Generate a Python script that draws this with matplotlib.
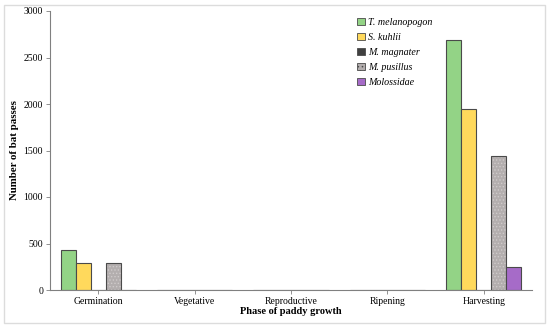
import matplotlib
matplotlib.use("Agg")
import matplotlib.pyplot as plt
from matplotlib.patches import Patch, Rectangle
import numpy as np

plt.rcParams["font.family"] = ["Liberation Serif", "DejaVu Serif"]
plt.rcParams["hatch.linewidth"] = 0.6

phases = ["Germination", "Vegetative", "Reproductive", "Ripening", "Harvesting"]
species = ["T. melanopogon", "S. kuhlii", "M. magnater", "M. pusillus", "Molossidae"]
t_melanopogon = [425, 0, 0, 0, 2690]
s_kuhlii = [285, 0, 0, 0, 1950]
m_magnater = [0, 0, 0, 0, 0]
m_pusillus = [285, 0, 0, 0, 1440]
molossidae = [5, 0, 0, 0, 250]

series = [t_melanopogon, s_kuhlii, m_magnater, m_pusillus, molossidae]
colors = ["#93d386", "#ffd95c", "#404040", "#b3aeae", "#a66bc8"]
edge = "#4a4a4a"

fig = plt.figure(figsize=(5.5, 3.29), dpi=100)
ax = fig.add_axes([50 / 550, 39 / 329, 482 / 550, 279 / 329])

x = np.arange(len(phases))
width = 0.156
for i, (vals, col) in enumerate(zip(series, colors)):
    pos = x + (i - 2) * width
    if species[i] == "M. pusillus":
        ax.bar(pos, vals, width, color=col, hatch=".....", edgecolor="#cfcbcb", linewidth=0)
        ax.bar(pos, vals, width, fill=False, edgecolor=edge, linewidth=0.8)
    else:
        ax.bar(pos, vals, width, color=col, edgecolor=edge, linewidth=0.8)

ax.set_xlim(-0.5, 4.5)
ax.set_ylim(0, 3000)
ax.set_yticks(range(0, 3001, 500))
ax.set_xticks(x)
ax.set_xticklabels(phases)
ax.tick_params(axis="both", labelsize=7, length=3, width=0.6, color="#808080", pad=2)
for side in ("top", "right"):
    ax.spines[side].set_visible(False)
for side in ("left", "bottom"):
    ax.spines[side].set_color("#808080")
    ax.spines[side].set_linewidth(0.8)
ax.set_ylabel("Number of bat passes", fontsize=7.8, fontweight="bold", labelpad=3)
ax.set_xlabel("Phase of paddy growth", fontsize=7.5, fontweight="bold", labelpad=1)

handles = []
for sp, col in zip(species, colors):
    if sp == "M. pusillus":
        handles.append(Patch(facecolor=col, edgecolor=edge, hatch="....", linewidth=0.6))
    else:
        handles.append(Patch(facecolor=col, edgecolor=edge, linewidth=0.6))
leg = fig.legend(handles, species, loc="upper left", bbox_to_anchor=(353 / 550, 1 - 14 / 329),
                 frameon=False, prop={"style": "italic", "size": 7.2}, handlelength=0.75,
                 handleheight=0.75, handletextpad=0.35, labelspacing=0.58, borderaxespad=0)

fig.patches.append(Rectangle((4 / 550, 6 / 329), 541 / 550, 318 / 329, transform=fig.transFigure,
                             fill=False, edgecolor="#dcdcdc", linewidth=1))

fig.savefig("out.png", dpi=100, facecolor="white")
